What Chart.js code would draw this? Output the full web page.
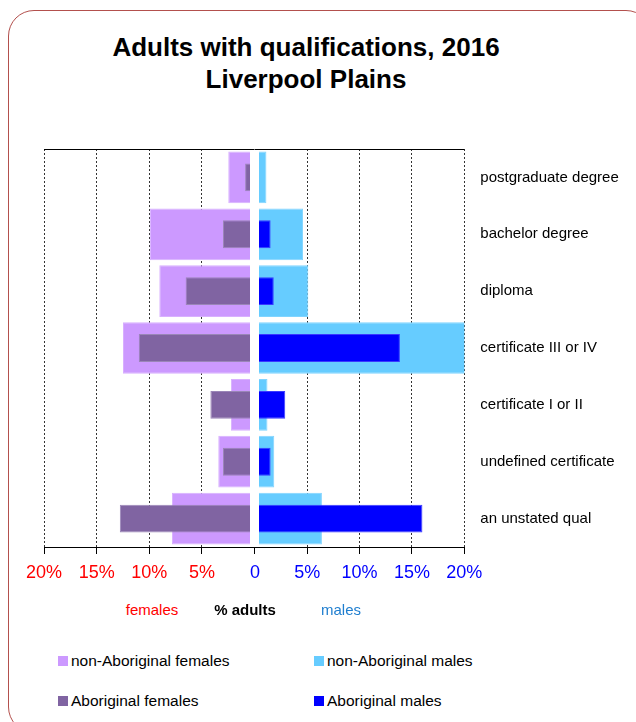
<!DOCTYPE html>
<html>
<head>
<meta charset="utf-8">
<script src="https://cdn.jsdelivr.net/npm/chart.js@4/dist/chart.umd.min.js"></script>
<style>
  body { margin: 0; background: #fff; font-family: "Liberation Sans", Arial, sans-serif; }
  #wrap { position: relative; width: 636px; height: 722px; overflow: hidden; }
  #frame { position: absolute; left: 8px; top: 10px; width: 644px; height: 723px; box-sizing: border-box;
           border: 1.5px solid #b3504d; border-radius: 26px; }
  #title { position: absolute; left: 0; top: 31px; width: 612px; text-align: center;
           font-weight: bold; font-size: 26px; line-height: 32px; color: #000; }
  canvas { position: absolute; top: 0; }
  #leftChart { left: 0; }
  #rightChart { left: 200px; }
  .axt { position: absolute; top: 601px; font-size: 15px; line-height: 18px; transform: translateX(-50%); white-space: nowrap; }
  .leg { position: absolute; font-size: 15.5px; line-height: 18px; white-space: nowrap; }
  .leg i { display: inline-block; width: 10px; height: 10px; margin-right: 3px; vertical-align: 0px; }
</style>
</head>
<body>
<div id="wrap">
  <div id="frame"></div>
  <div id="title">Adults with qualifications, 2016<br>Liverpool Plains</div>
  <canvas id="leftChart" width="270" height="600"></canvas>
  <canvas id="rightChart" width="436" height="600"></canvas>
  <div class="axt" style="left:152px;color:#ff0000">females</div>
  <div class="axt" style="left:245px;font-weight:bold;color:#000">% adults</div>
  <div class="axt" style="left:341px;color:#1f7ecf">males</div>
  <div id="legend"></div>
</div>
<script>
// Категории и значения (% взрослых)
const categories = ['postgraduate degree', 'bachelor degree', 'diploma', 'certificate III or IV',
                    'certificate I or II', 'undefined certificate', 'an unstated qual'];
const nonAbFemales = [2.5, 9.95, 9.05, 12.5, 2.25, 3.45, 7.85];
const abFemales    = [0.9, 3.0, 6.55, 11.0, 4.2, 3.0, 12.8];
const nonAbMales   = [1.1, 4.6, 5.1, 20.3, 1.2, 1.85, 6.4];
const abMales      = [0, 1.5, 1.8, 13.85, 2.9, 1.5, 16.0];
const tickValues   = [0, 5, 10, 15, 20];

const colors = {
    nonAbFemales: '#CC99FF',
    abFemales: '#8064A2',
    nonAbMales: '#66CCFF',
    abMales: '#0000FF'
};

// Линия сверху области графика + белый зазор у нуля
const framePlugin = {
    id: 'frameLine',
    afterDatasetsDraw(chart, args, opts) {
        const a = chart.chartArea;
        const ctx = chart.ctx;
        ctx.save();
        ctx.fillStyle = '#fff';
        if (opts.side === 'left') ctx.fillRect(a.right - 4.6, a.top, 4.6, a.bottom - a.top);
        else ctx.fillRect(a.left, a.top, 4.1, a.bottom - a.top);
        ctx.strokeStyle = '#000';
        ctx.lineWidth = 1;
        ctx.beginPath();
        ctx.moveTo(a.left, a.top + 0.5);
        ctx.lineTo(a.right, a.top + 0.5);
        ctx.stroke();
        ctx.restore();
    }
};

function xScale(reverse, color, showZero) {
    return {
        type: 'linear',
        min: 0,
        max: 20,
        reverse: reverse,
        afterBuildTicks: s => { s.ticks = tickValues.map(v => ({ value: v })); },
        afterFit: s => { s.height = 53; },
        ticks: {
            color: color,
            font: { family: '"Liberation Sans", Arial, sans-serif', size: 18 },
            padding: 8,
            maxRotation: 0,
            callback: v => v === 0 ? (showZero ? '0' : '') : v + '%'
        },
        grid: {
            color: c => (c.tick && c.tick.value === 0) ? 'rgba(0,0,0,0)' : '#333',
            lineWidth: 1,
            tickLength: 7,
            tickColor: '#000',
            tickBorderDash: []
        },
        border: { display: true, color: '#000', width: 1, dash: [2, 2] }
    };
}

function barSet(label, data, bg, border, pct) {
    return {
        label: label,
        data: data,
        backgroundColor: bg,
        borderColor: border,
        borderWidth: 1,
        borderSkipped: false,
        barPercentage: pct,
        categoryPercentage: 1,
        grouped: false
    };
}

// Левая часть: женщины
new Chart(document.getElementById('leftChart'), {
    type: 'bar',
    data: {
        labels: categories,
        datasets: [
            barSet('Aboriginal females', abFemales, colors.abFemales, '#9a86b8', 0.49),
            barSet('non-Aboriginal females', nonAbFemales, colors.nonAbFemales, '#d8b0ff', 0.91)
        ]
    },
    options: {
        indexAxis: 'y',
        responsive: false,
        animation: false,
        layout: { padding: { left: 44, right: 15.4, top: 149, bottom: 0 } },
        plugins: { legend: { display: false }, tooltip: { enabled: false }, frameLine: { side: 'left' } },
        scales: {
            x: xScale(true, '#ff0000', false),
            y: { display: false }
        }
    },
    plugins: [framePlugin]
});

// Правая часть: мужчины
new Chart(document.getElementById('rightChart'), {
    type: 'bar',
    data: {
        labels: categories,
        datasets: [
            barSet('Aboriginal males', abMales, colors.abMales, '#3a3aff', 0.49),
            barSet('non-Aboriginal males', nonAbMales, colors.nonAbMales, '#80d4ff', 0.91)
        ]
    },
    options: {
        indexAxis: 'y',
        responsive: false,
        animation: false,
        layout: { padding: { left: 54.9, right: 0, top: 149, bottom: 0 } },
        plugins: { legend: { display: false }, tooltip: { enabled: false }, frameLine: { side: 'right' } },
        scales: {
            x: xScale(false, '#0000ff', true),
            y: {
                position: 'right',
                afterFit: s => { s.width = 171.7; },
                grid: { display: false, drawTicks: false },
                border: { display: false },
                ticks: {
                    color: '#000',
                    padding: 16,
                    font: { family: '"Liberation Sans", Arial, sans-serif', size: 15 }
                }
            }
        }
    },
    plugins: [framePlugin]
});

// Легенда
const legendItems = [
    { text: 'non-Aboriginal females', color: colors.nonAbFemales, x: 58, y: 652 },
    { text: 'non-Aboriginal males', color: colors.nonAbMales, x: 314, y: 652 },
    { text: 'Aboriginal females', color: colors.abFemales, x: 58, y: 692 },
    { text: 'Aboriginal males', color: colors.abMales, x: 314, y: 692 }
];
document.getElementById('legend').innerHTML = legendItems
    .map(l => `<div class="leg" style="left:${l.x}px;top:${l.y}px"><i style="background:${l.color}"></i>${l.text}</div>`)
    .join('');
</script>
</body>
</html>
